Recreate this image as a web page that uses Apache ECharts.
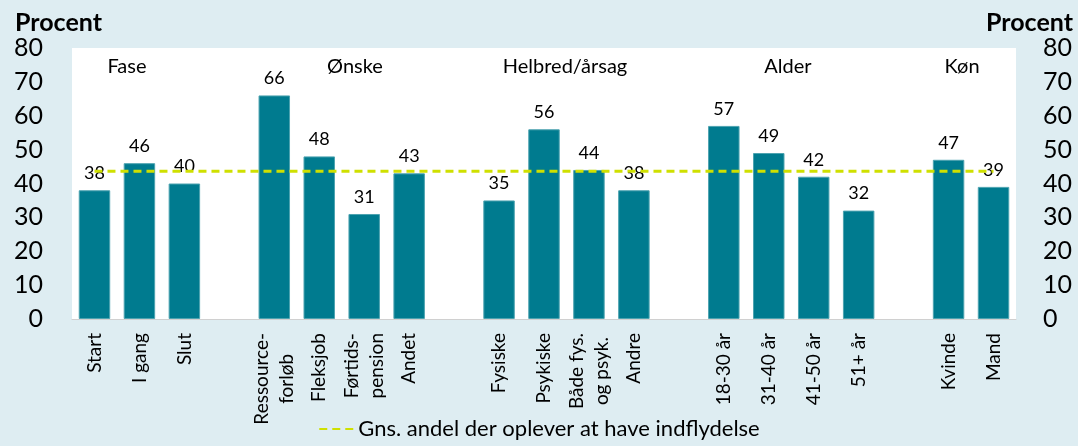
<!DOCTYPE html>
<html><head><meta charset="utf-8">
<script src="https://cdn.jsdelivr.net/npm/echarts@6/dist/echarts.min.js"></script>
<style>html,body{margin:0;padding:0;background:#deedf2;}#c{width:1078px;height:446px;}</style>
</head><body><div id="c"></div>
<script>
const categories = ['Start','I gang','Slut',' ','Ressource-\nforløb','Fleksjob','Førtids-\npension','Andet','  ','Fysiske','Psykiske','Både fys.\nog psyk.','Andre','   ','18-30 år','31-40 år','41-50 år','51+ år','    ','Kvinde','Mand'];
const values = [38,46,40,null,66,48,31,43,null,35,56,44,38,null,57,49,42,32,null,47,39];
const avgValue = 43.6;
const avgName = 'Gns. andel der oplever at have indflydelse';
const groupTitles = ['Fase','Ønske','Helbred/årsag','Alder','Køn'];
const groupTitleX = [127,355,565,788,962];
const yTicks = [0,10,20,30,40,50,60,70,80];
const FONT = 'Lato, "Open Sans", sans-serif';

const chart = echarts.init(document.getElementById('c'));
const yAxisBase = {
  type:'value', min:yTicks[0], max:yTicks[yTicks.length-1], interval:10,
  name:'Procent', nameLocation:'end', nameGap:13,
  nameTextStyle:{fontFamily:FONT,fontWeight:'bold',fontSize:25,color:'#000'},
  axisLine:{show:false}, axisTick:{show:false}, splitLine:{show:false},
  axisLabel:{fontFamily:FONT,fontSize:25,color:'#000',margin:28}
};
chart.setOption({
  backgroundColor:'#deedf2',
  animation:false,
  grid:{left:72,right:62,top:48,bottom:127,show:true,backgroundColor:'#ffffff',borderWidth:0},
  legend:{bottom:1,left:'center',itemWidth:34,itemHeight:14,itemGap:6,
    itemStyle:{opacity:0},
    textStyle:{fontFamily:FONT,fontSize:22,color:'#000'},data:[avgName]},
  xAxis:{type:'category',data:categories,
    axisLine:{show:true,lineStyle:{color:'#d0d0d0',width:1}},axisTick:{show:false},
    axisLabel:{rotate:90,interval:0,fontFamily:FONT,fontSize:19,color:'#000',margin:14,lineHeight:25,
      formatter:function(v){ return v.split('\n').map(function(s){return '{c|'+s+'}';}).join('\n'); },
      rich:{c:{align:'center',fontFamily:FONT,fontSize:19,color:'#000',lineHeight:25}}}
  },
  yAxis:[
    Object.assign({},yAxisBase,{position:'left',nameTextStyle:Object.assign({},yAxisBase.nameTextStyle,{align:'left',padding:[0,0,0,-57]}),axisLabel:Object.assign({},yAxisBase.axisLabel,{align:'right',margin:29})}),
    Object.assign({},yAxisBase,{position:'right',nameTextStyle:Object.assign({},yAxisBase.nameTextStyle,{align:'right',padding:[0,-57,0,0]}),axisLabel:Object.assign({},yAxisBase.axisLabel,{align:'left',margin:27})})
  ],
  series:[
    {type:'bar',name:'Andel',data:values,barWidth:'70%',
      itemStyle:{color:'#007b8f',borderColor:'#4da3b0',borderWidth:1},
      label:{show:true,position:'top',distance:8,fontFamily:FONT,fontSize:18,color:'#000'}},
    {type:'line',name:avgName,data:categories.map(function(){return avgValue;}),symbol:'none',
      lineStyle:{color:'#cfe000',width:3,type:[8,5]},itemStyle:{color:'#cfe000'},z:5}
  ],
  graphic: groupTitles.map(function(t,i){
    return {type:'text',x:groupTitleX[i],y:57,style:{text:t,fontFamily:FONT,fontSize:20,fill:'#000',align:'center',textAlign:'center'}};
  })
});
</script></body></html>
